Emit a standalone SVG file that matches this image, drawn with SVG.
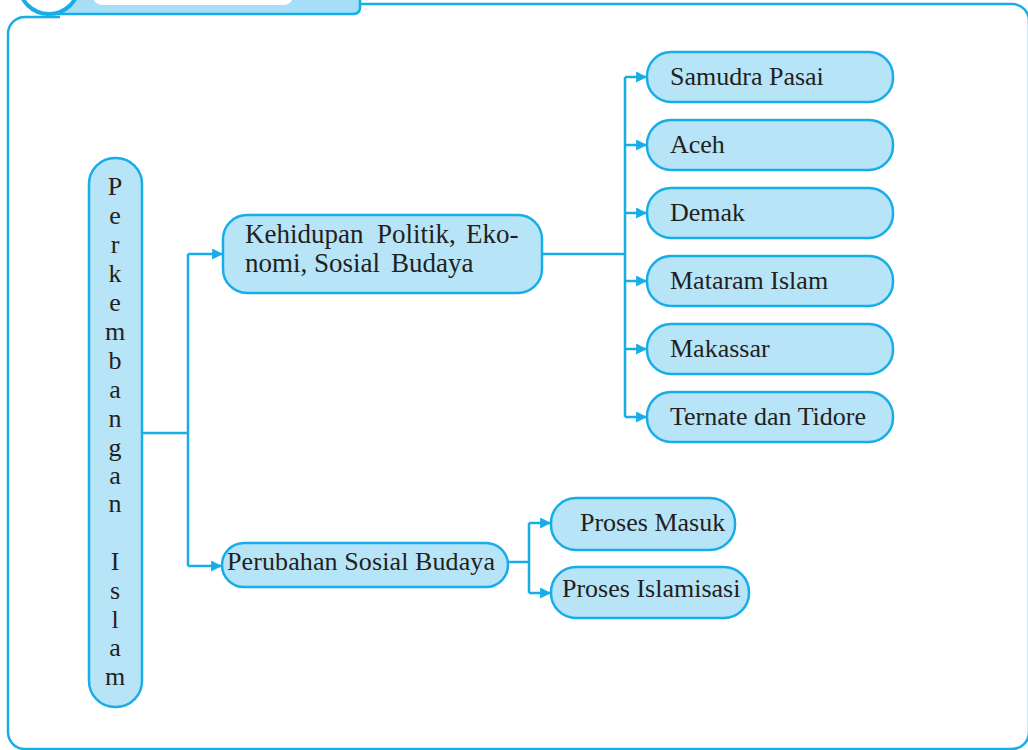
<svg xmlns="http://www.w3.org/2000/svg" width="1028" height="750" viewBox="0 0 1028 750">
<style>
.frame{fill:none;stroke:#17ade8;stroke-width:2.5}
.node{fill:#b8e4f8;stroke:#17ade8;stroke-width:2.5}
.lbl{font-family:"Liberation Serif","Times New Roman",serif;font-size:26px;fill:#231f20}
.lbl2{font-family:"Liberation Serif","Times New Roman",serif;font-size:27px;fill:#231f20}
.vl{font-family:"Liberation Serif","Times New Roman",serif;font-size:26px;fill:#231f20;text-anchor:middle}
.conn{fill:none;stroke:#17ade8;stroke-width:2.5}
</style>
<defs>
<marker id="arr" viewBox="0 0 10 10" refX="9" refY="5" markerWidth="11" markerHeight="11" markerUnits="userSpaceOnUse" orient="auto">
<path d="M0,0 L10,5 L0,10 Z" fill="#17ade8"/>
</marker>
</defs>
<rect width="1028" height="750" fill="#ffffff"/>
<g id="frame">
<path class="frame" d="M 8 34 A 17 17 0 0 1 25 17 L 60 17"/>
<path class="frame" d="M 355 4 L 1012 4 A 17 17 0 0 1 1029 21 L 1029 732 A 17 17 0 0 1 1012 749 L 25 749 A 17 17 0 0 1 8 732 L 8 34"/>
<rect x="40" y="-20" width="320" height="34" rx="6" fill="#a6def7" stroke="#17ade8" stroke-width="2.5"/>
<rect x="93" y="-20" width="200" height="25" rx="9" fill="#ffffff"/>
<circle cx="49" cy="-16" r="30" fill="#ffffff" stroke="#17ade8" stroke-width="4"/>
</g>
<g id="connectors">
<path class="conn" d="M 142 433 L 188 433"/>
<path class="conn" d="M 188 254 L 188 566"/>
<path class="conn" d="M 188 254 L 222 254" marker-end="url(#arr)"/>
<path class="conn" d="M 188 566 L 221 566" marker-end="url(#arr)"/>
<path class="conn" d="M 542 254 L 625 254"/>
<path class="conn" d="M 625 77 L 625 417"/>
<path class="conn" d="M 625 77 L 646 77" marker-end="url(#arr)"/>
<path class="conn" d="M 625 145 L 646 145" marker-end="url(#arr)"/>
<path class="conn" d="M 625 213 L 646 213" marker-end="url(#arr)"/>
<path class="conn" d="M 625 281 L 646 281" marker-end="url(#arr)"/>
<path class="conn" d="M 625 349 L 646 349" marker-end="url(#arr)"/>
<path class="conn" d="M 625 417 L 646 417" marker-end="url(#arr)"/>
<path class="conn" d="M 508 562 L 529 562"/>
<path class="conn" d="M 529 523 L 529 593"/>
<path class="conn" d="M 529 523 L 550 523" marker-end="url(#arr)"/>
<path class="conn" d="M 529 593 L 550 593" marker-end="url(#arr)"/>
</g>
<g id="node-perkembangan">
<rect class="node" x="89" y="158" width="53" height="549" rx="26"/>
<text class="vl" x="115" y="195">P</text>
<text class="vl" x="115" y="224">e</text>
<text class="vl" x="115" y="253">r</text>
<text class="vl" x="115" y="282">k</text>
<text class="vl" x="115" y="311">e</text>
<text class="vl" x="115" y="340">m</text>
<text class="vl" x="115" y="369">b</text>
<text class="vl" x="115" y="398">a</text>
<text class="vl" x="115" y="427">n</text>
<text class="vl" x="115" y="456">g</text>
<text class="vl" x="115" y="484">a</text>
<text class="vl" x="115" y="512">n</text>
<text class="vl" x="115" y="570">I</text>
<text class="vl" x="115" y="599">s</text>
<text class="vl" x="115" y="628">l</text>
<text class="vl" x="115" y="656">a</text>
<text class="vl" x="115" y="685">m</text>
</g>
<g id="node-kehidupan">
<rect class="node" x="223" y="215" width="319" height="78" rx="24"/>
<text class="lbl2" y="243"><tspan x="245">Kehidupan</tspan><tspan x="377">Politik,</tspan><tspan x="466">Eko-</tspan></text>
<text class="lbl2" y="272"><tspan x="245">nomi,</tspan><tspan x="314">Sosial</tspan><tspan x="391">Budaya</tspan></text>
</g>
<g id="node-perubahan">
<rect class="node" x="222" y="543" width="286" height="44" rx="22"/>
<text class="lbl" x="227" y="570" textLength="268" lengthAdjust="spacing">Perubahan Sosial Budaya</text>
</g>
<g id="node-samudra">
<rect class="node" x="647" y="52" width="246" height="50" rx="24"/>
<text class="lbl" x="670" y="85">Samudra Pasai</text>
</g>
<g id="node-aceh">
<rect class="node" x="647" y="120" width="246" height="50" rx="24"/>
<text class="lbl" x="670" y="153">Aceh</text>
</g>
<g id="node-demak">
<rect class="node" x="647" y="188" width="246" height="50" rx="24"/>
<text class="lbl" x="670" y="221">Demak</text>
</g>
<g id="node-mataram">
<rect class="node" x="647" y="256" width="246" height="50" rx="24"/>
<text class="lbl" x="670" y="289">Mataram Islam</text>
</g>
<g id="node-makassar">
<rect class="node" x="647" y="324" width="246" height="50" rx="24"/>
<text class="lbl" x="670" y="357">Makassar</text>
</g>
<g id="node-ternate">
<rect class="node" x="647" y="392" width="246" height="50" rx="24"/>
<text class="lbl" x="670" y="425">Ternate dan Tidore</text>
</g>
<g id="node-proses-masuk">
<rect class="node" x="551" y="498" width="184" height="52" rx="25"/>
<text class="lbl" x="580" y="531">Proses Masuk</text>
</g>
<g id="node-proses-islamisasi">
<rect class="node" x="551" y="567" width="198" height="51" rx="25"/>
<text class="lbl" x="562" y="597">Proses Islamisasi</text>
</g>
</svg>
